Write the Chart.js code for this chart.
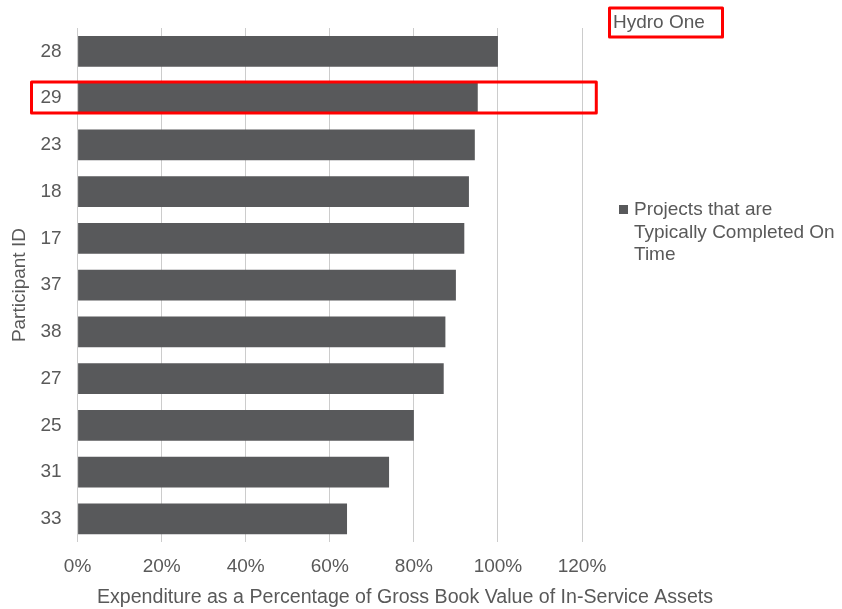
<!DOCTYPE html>
<html>
<head>
<meta charset="utf-8">
<script src="https://cdn.jsdelivr.net/npm/chart.js@4/dist/chart.umd.min.js"></script>
<style>
  html, body { margin: 0; padding: 0; background: #ffffff; }
  #wrap { width: 842px; height: 609px; position: relative; }
</style>
</head>
<body>
<div id="wrap"><canvas id="chart" width="842" height="609"></canvas></div>
<script>
// Participants, ordered top to bottom
const participants = ['28', '29', '23', '18', '17', '37', '38', '27', '25', '31', '33'];
// Expenditure as % of gross book value of in-service assets
const onTimeValues = [100, 95.2, 94.5, 93.1, 92.0, 90.0, 87.5, 87.1, 80.0, 74.1, 64.1];
const seriesName = ['Projects that are', 'Typically Completed On', 'Time'];
const xTitle = 'Expenditure as a Percentage of Gross Book Value of In-Service Assets';
const yTitle = 'Participant ID';
const highlightId = '29';
const highlightLabel = 'Hydro One';

const FONT = "'Liberation Sans', Arial, sans-serif";
const TEXT = '#595959';
const BAR = '#58595b';
const RED = '#ff0000';

// Extra drawing: x-axis title, legend and the highlight boxes
const decorations = {
  id: 'decorations',
  afterDraw(chart) {
    const ctx = chart.ctx;
    const xs = chart.scales.x;
    const ys = chart.scales.y;
    ctx.save();

    // x-axis title
    ctx.fillStyle = TEXT;
    ctx.font = '19.6px ' + FONT;
    ctx.textAlign = 'center';
    ctx.textBaseline = 'middle';
    ctx.fillText(xTitle, 405, 598);

    // legend
    ctx.font = '19px ' + FONT;
    ctx.fillStyle = BAR;
    ctx.fillRect(619, 205, 9, 9);
    ctx.fillStyle = TEXT;
    ctx.textAlign = 'left';
    seriesName.forEach((line, i) => {
      ctx.fillText(line, 634, 210 + i * 22.5);
    });

    // highlighted participant row
    const idx = participants.indexOf(highlightId);
    const cy = ys.getPixelForValue(idx);
    ctx.strokeStyle = RED;
    ctx.lineWidth = 3;
    ctx.lineJoin = 'round';
    ctx.strokeRect(31.5, cy - 16, xs.getPixelForValue(123.4) - 31.5, 31);

    // label box
    ctx.strokeRect(609.5, 8, 113, 29);
    ctx.fillStyle = TEXT;
    ctx.textAlign = 'left';
    ctx.fillText(highlightLabel, 613, 23);
    ctx.restore();
  }
};

new Chart(document.getElementById('chart'), {
  type: 'bar',
  data: {
    labels: participants,
    datasets: [{
      label: seriesName.join(' '),
      data: onTimeValues,
      backgroundColor: BAR,
      borderWidth: 0,
      categoryPercentage: 1,
      barPercentage: 0.66
    }]
  },
  options: {
    indexAxis: 'y',
    responsive: false,
    animation: false,
    layout: { padding: { top: 28, right: 260, left: 0, bottom: 0 } },
    plugins: {
      legend: { display: false },
      tooltip: { enabled: false }
    },
    scales: {
      x: {
        min: 0,
        max: 120,
        afterFit(scale) { scale.height = 66.8; },
        border: { display: false },
        grid: { color: '#cccccc', lineWidth: 1, drawTicks: false },
        ticks: {
          stepSize: 20,
          padding: 13,
          color: TEXT,
          font: { family: FONT, size: 19 },
          callback: v => v + '%'
        },
        title: { display: false }
      },
      y: {
        afterFit(scale) { scale.width = 77.6; },
        border: { display: false },
        grid: { display: false, drawTicks: false },
        ticks: {
          padding: 16,
          color: TEXT,
          font: { family: FONT, size: 19 }
        },
        title: {
          display: true,
          text: yTitle,
          color: TEXT,
          font: { family: FONT, size: 19 },
          padding: { top: 8, bottom: 0 }
        }
      }
    }
  },
  plugins: [decorations]
});
</script>
</body>
</html>
